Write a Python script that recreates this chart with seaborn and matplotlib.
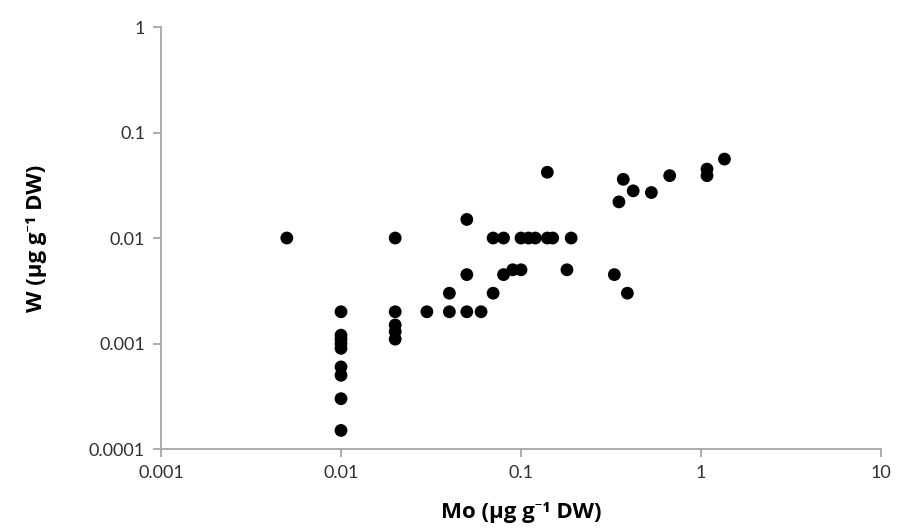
import matplotlib
matplotlib.use("Agg")
import matplotlib.pyplot as plt
import seaborn as sns
import pandas as pd
from matplotlib.ticker import FixedLocator, FixedFormatter, NullLocator

mo = [0.005,
      0.01, 0.01, 0.01, 0.01, 0.01, 0.01, 0.01, 0.01, 0.01,
      0.02, 0.02, 0.02, 0.02, 0.02,
      0.03, 0.04, 0.04,
      0.05, 0.05, 0.05, 0.06,
      0.07, 0.07, 0.08, 0.08, 0.09, 0.10, 0.10,
      0.11, 0.12, 0.14, 0.15, 0.19, 0.14, 0.18,
      0.33, 0.39, 0.35, 0.37, 0.42, 0.53, 0.67,
      1.08, 1.08, 1.35]
w = [0.01,
     0.002, 0.0012, 0.0011, 0.001, 0.0009, 0.0006, 0.0005, 0.0003, 0.00015,
     0.01, 0.002, 0.0015, 0.0013, 0.0011,
     0.002, 0.003, 0.002,
     0.015, 0.0045, 0.002, 0.002,
     0.01, 0.003, 0.01, 0.0045, 0.005, 0.005, 0.01,
     0.01, 0.01, 0.01, 0.01, 0.01, 0.042, 0.005,
     0.0045, 0.003, 0.022, 0.036, 0.028, 0.027, 0.039,
     0.045, 0.039, 0.056]

x_ticks = [0.001, 0.01, 0.1, 1, 10]
x_tick_labels = ["0.001", "0.01", "0.1", "1", "10"]
y_ticks = [0.0001, 0.001, 0.01, 0.1, 1]
y_tick_labels = ["0.0001", "0.001", "0.01", "0.1", "1"]

df = pd.DataFrame({"Mo": mo, "W": w})

sns.set_theme(style="white")
plt.rcParams["font.family"] = ["Lato", "DejaVu Sans"]

fig = plt.figure(figsize=(9.01, 5.30), dpi=100)
ax = fig.add_axes([0.1787, 0.1528, 0.7991, 0.7962])

sns.scatterplot(data=df, x="Mo", y="W", ax=ax, color="black", s=85,
                edgecolor="none", linewidth=0, zorder=3)

ax.set_xscale("log")
ax.set_yscale("log")
ax.set_xlim(0.001, 10)
ax.set_ylim(0.0001, 1)

ax.xaxis.set_major_locator(FixedLocator(x_ticks))
ax.xaxis.set_major_formatter(FixedFormatter(x_tick_labels))
ax.xaxis.set_minor_locator(NullLocator())
ax.yaxis.set_major_locator(FixedLocator(y_ticks))
ax.yaxis.set_major_formatter(FixedFormatter(y_tick_labels))
ax.yaxis.set_minor_locator(NullLocator())

for side in ["top", "right"]:
    ax.spines[side].set_visible(False)
for side in ["left", "bottom"]:
    ax.spines[side].set_color("#a6a6a6")
    ax.spines[side].set_linewidth(1.3)

ax.tick_params(axis="both", which="major", direction="out", length=5.5,
               width=1.3, color="#a6a6a6", labelsize=13,
               labelcolor="#303030", pad=6, left=True, bottom=True)

lab_font = ["Open Sans", "Noto Sans", "DejaVu Sans"]
ax.set_xlabel("Mo (µg g⁻¹ DW)", fontsize=16, fontweight="bold",
              family=lab_font, color="black", labelpad=15)
ax.set_ylabel("W (µg g⁻¹ DW)", fontsize=16, fontweight="bold",
              family=lab_font, color="black", labelpad=30)
ax.grid(False)

fig.savefig("out.png", dpi=100)
